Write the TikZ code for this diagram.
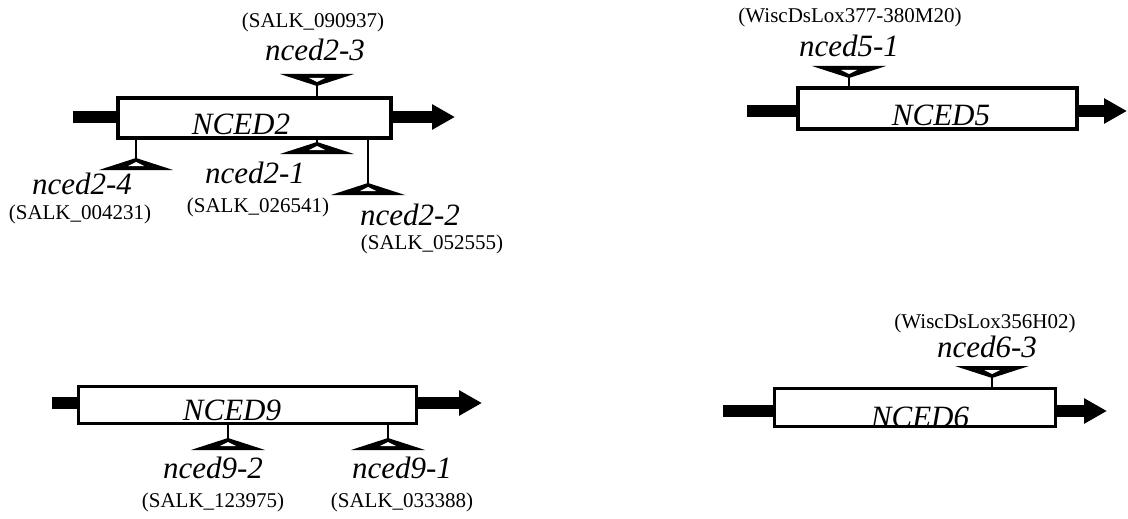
\documentclass[tikz,border=0pt]{standalone}
\usepackage{fontspec}
\setmainfont{Liberation Serif}
\usetikzlibrary{arrows.meta}
\begin{document}
\begin{tikzpicture}[x=1pt,y=-1pt,
  genebox/.style={draw, line width=3.6pt, fill=white, inner sep=0pt},
  bar/.style={line width=11.5pt},
  arr/.style={line width=11.5pt, -{Triangle[length=23pt 0 0, width=24pt 0 0]}},
  stem/.style={line width=2.5pt},
  lab/.style={font=\fontsize{31}{31}\selectfont\itshape, inner sep=0pt, anchor=base},
  gname/.style={font=\fontsize{31}{31}\selectfont\itshape, inner sep=0pt, anchor=base},
  acc/.style={font=\fontsize{21}{21}\selectfont, inner sep=0pt, anchor=base},
  tiup/.pic={\fill (0,0) -- (37,12) -- (-37,12) -- cycle;
             \fill[white] (0,4) -- (8,8) -- (-8,8) -- cycle;},
  tidown/.pic={\fill (0,0) -- (37,-12) -- (-37,-12) -- cycle;
               \fill[white] (0,-4) -- (8,-8) -- (-8,-8) -- cycle;}
]
\useasboundingbox (0,0) rectangle (1128,519);

% ---------------- NCED2 ----------------
\coordinate (l2) at (73,117);
\coordinate (t2) at (455,117);
\draw[bar] (l2) -- (120,117);
\draw[arr] (390,117) -- (t2);
\node[genebox, minimum width=273pt, minimum height=40pt] (g2) at (254.5,118) {};
\node[gname] (n2) at (241,134) {NCED2};

\coordinate (a23) at (317,86);
\draw[stem] (a23) -- (a23 |- g2.north);
\pic at (a23) {tidown};
\node[lab] (m23) at (315,61) {nced2-3};
\node[acc] (s23) at (313,28) {(SALK\_090937)};

\coordinate (a24) at (136,158);
\draw[stem] (a24 |- g2.south) -- (a24);
\pic at (a24) {tiup};
\node[lab] (m24) at (82,194) {nced2-4};
\node[acc] (s24) at (80,219) {(SALK\_004231)};

\coordinate (a21) at (317,142);
\draw[stem] (a21 |- g2.south) -- (a21);
\pic at (a21) {tiup};
\node[lab] (m21) at (255,183) {nced2-1};
\node[acc] (s21) at (258,212) {(SALK\_026541)};

\coordinate (a22) at (368,183);
\draw[stem] (a22 |- g2.south) -- (a22);
\pic at (a22) {tiup};
\node[lab] (m22) at (410,225) {nced2-2};
\node[acc] (s22) at (432,249) {(SALK\_052555)};

% ---------------- NCED5 ----------------
\coordinate (l5) at (747,111);
\coordinate (t5) at (1127,111);
\draw[bar] (l5) -- (800,111);
\draw[arr] (1075,111) -- (t5);
\node[genebox, minimum width=279pt, minimum height=41pt] (g5) at (937.5,108.5) {};
\node[gname] (n5) at (941,125) {NCED5};

\coordinate (a51) at (849,78);
\draw[stem] (a51) -- (a51 |- g5.north);
\pic at (a51) {tidown};
\node[lab] (m51) at (849,57) {nced5-1};
\node[acc] (s51) at (850,23) {(WiscDsLox377-380M20)};

% ---------------- NCED9 ----------------
\coordinate (l9) at (52,403);
\coordinate (t9) at (482,403);
\draw[bar] (l9) -- (80,403);
\draw[arr] (415,403) -- (t9);
\node[genebox, minimum width=338pt, minimum height=37pt] (g9) at (247.5,405) {};
\node[gname] (n9) at (232,420) {NCED9};

\coordinate (a92) at (228,438);
\draw[stem] (a92 |- g9.south) -- (a92);
\pic at (a92) {tiup};
\node[lab] (m92) at (213,478) {nced9-2};
\node[acc] (s92) at (213,507) {(SALK\_123975)};

\coordinate (a91) at (388,438);
\draw[stem] (a91 |- g9.south) -- (a91);
\pic at (a91) {tiup};
\node[lab] (m91) at (402,478) {nced9-1};
\node[acc] (s91) at (402,507) {(SALK\_033388)};

% ---------------- NCED6 ----------------
\coordinate (l6) at (723,411);
\coordinate (t6) at (1107,411);
\draw[bar] (l6) -- (776,411);
\draw[arr] (1054,411) -- (t6);
\node[genebox, minimum width=281pt, minimum height=38pt] (g6) at (915,407.5) {};
\node[gname] (n6) at (920,427) {NCED6};

\coordinate (a63) at (992,378);
\draw[stem] (a63) -- (a63 |- g6.north);
\pic at (a63) {tidown};
\node[lab] (m63) at (987,357) {nced6-3};
\node[acc] (s63) at (985,328) {(WiscDsLox356H02)};
\end{tikzpicture}
\end{document}
